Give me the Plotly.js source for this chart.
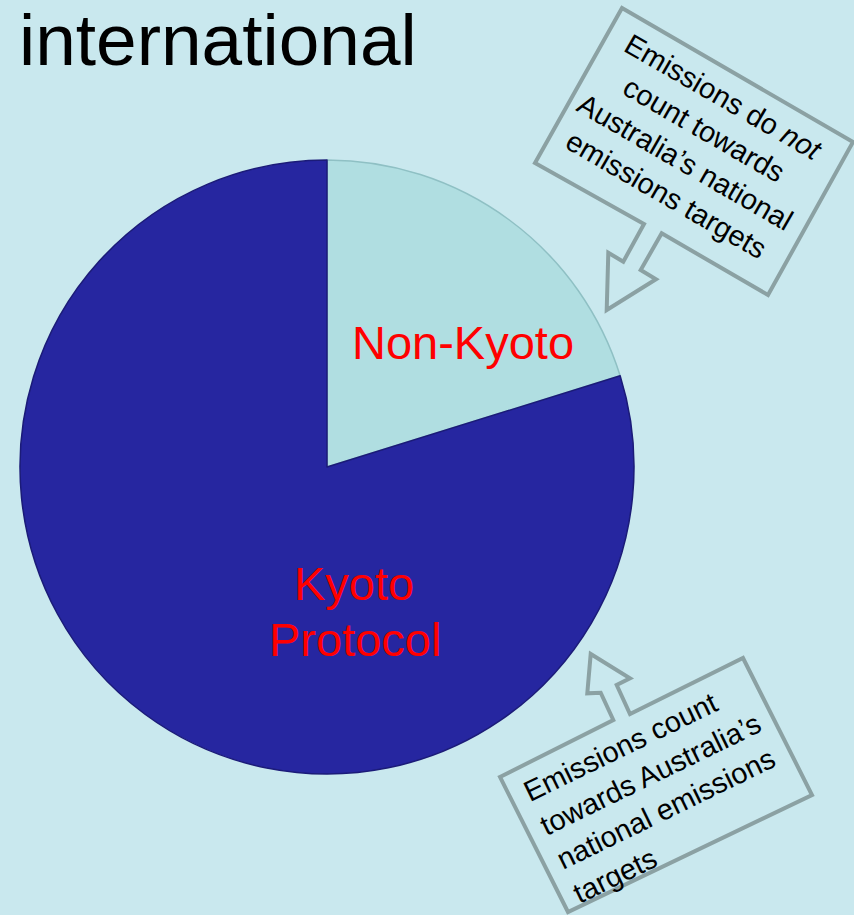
<!DOCTYPE html>
<html>
<head>
<meta charset="utf-8">
<script src="https://cdn.plot.ly/plotly-3.0.1.min.js"></script>
<style>html,body{margin:0;padding:0;background:#c9e8ee;}#chart{width:854px;height:915px;}</style>
</head>
<body>
<div id="chart"></div>
<script>
// ---- data ----
const categories = ["Non-Kyoto", "Kyoto<br>Protocol"];
const shares = [20.2, 79.8];
const sliceColors = ["#b0dee1", "#2626a0"];
const titleText = "international";
const calloutTop = "Emissions do <i>not</i><br>count towards<br>Australia’s national<br>emissions targets";
const calloutBottom = "Emissions count<br>towards Australia’s<br>national emissions<br>targets";

// ---- layout helpers ----
const W = 854, H = 915;
const FONT = "Liberation Sans, Arial, sans-serif";
function px(x, y) { return [x / W, 1 - y / H]; }
function pathFrom(points) {
  return "M " + points.map(p => { const q = px(p[0], p[1]); return q[0].toFixed(5) + "," + q[1].toFixed(5); }).join(" L ") + " Z";
}
const box1 = [[622,8],[853,142],[768,295],[661.7,233.3],[640.7,270],[656,279.3],[606.7,310],[608.3,252.7],[623.3,261.7],[644,224],[535,163]];
const box2 = [[500,777],[613.3,720],[600.7,692.7],[587.3,693.3],[590.7,654],[630,678.3],[616.7,685],[630,714],[743,658],[812,795],[568,912]];

const cx = 327, cy = 467, r = 307;
const dom = { x: [(cx - r) / W, (cx + r) / W], y: [1 - (cy + r) / H, 1 - (cy - r) / H] };

const trace = {
  type: "pie",
  labels: categories,
  values: shares,
  sort: false,
  direction: "clockwise",
  rotation: 0,
  textinfo: "none",
  hoverinfo: "skip",
  showlegend: false,
  domain: dom,
  marker: { colors: sliceColors, line: { color: ["#8fc0c4", "#1b1b78"], width: 1.5 } }
};

function ann(text, x, y, opts) {
  const p = px(x, y);
  return Object.assign({ text: text, x: p[0], y: p[1], xref: "paper", yref: "paper", showarrow: false,
    xanchor: "center", yanchor: "middle" }, opts);
}
const kyotoLines = categories[1].split("<br>");
const labelFont = { family: FONT, size: 47, color: "#ff0000" };

const layout = {
  width: W, height: H,
  margin: { l: 0, r: 0, t: 0, b: 0 },
  paper_bgcolor: "#c9e8ee",
  plot_bgcolor: "#c9e8ee",
  showlegend: false,
  shapes: [
    { type: "path", xref: "paper", yref: "paper", path: pathFrom(box1), line: { color: "#8ba1a3", width: 4 }, fillcolor: "rgba(0,0,0,0)" },
    { type: "path", xref: "paper", yref: "paper", path: pathFrom(box2), line: { color: "#8ba1a3", width: 4 }, fillcolor: "rgba(0,0,0,0)" }
  ],
  annotations: [
    ann(titleText, 17, 39, { xanchor: "left", font: { family: FONT, size: 73, color: "#000000" } }),
    ann(categories[0], 463, 343, { font: labelFont }),
    ann(kyotoLines[0], 354, 583, { font: labelFont }),
    ann(kyotoLines[1], 355, 639, { font: labelFont }),
    ann(calloutTop, 694, 146, { textangle: 30, align: "center", font: { family: FONT, size: 29, color: "#000000" } }),
    ann(calloutBottom, 658, 791, { textangle: -26, align: "left", font: { family: FONT, size: 29, color: "#000000" } })
  ]
};

Plotly.newPlot("chart", [trace], layout, { staticPlot: true, displayModeBar: false });
</script>
</body>
</html>
